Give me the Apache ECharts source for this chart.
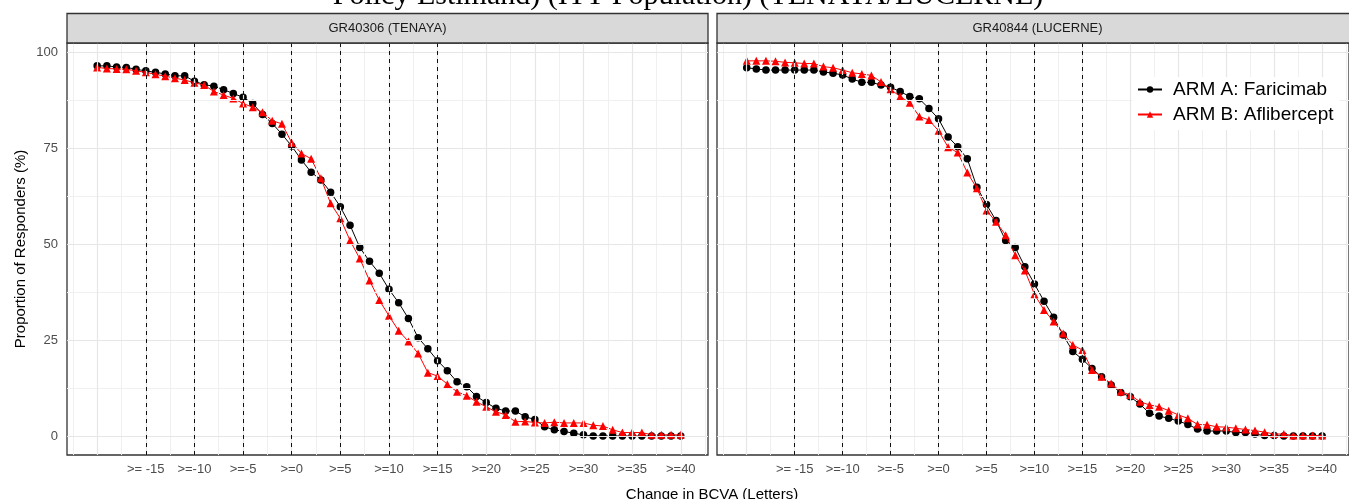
<!DOCTYPE html>
<html><head><meta charset="utf-8">
<script src="https://cdn.jsdelivr.net/npm/echarts@6/dist/echarts.min.js"></script>
<style>html,body{margin:0;padding:0;background:#fff}#c{width:1349px;height:499px}</style>
</head><body><div id="c"></div>
<script>
// Change in BCVA (letters), one point per letter
const changes = [-20,-19,-18,-17,-16,-15,-14,-13,-12,-11,-10,-9,-8,-7,-6,-5,-4,-3,-2,-1,0,1,2,3,4,5,6,7,8,9,10,11,12,13,14,15,16,17,18,19,20,21,22,23,24,25,26,27,28,29,30,31,32,33,34,35,36,37,38,39,40];

const tenayaA = [96.4,96.4,96.1,96.0,95.5,95.1,94.7,94.3,93.8,93.8,
  92.4,91.5,91.1,90.2,89.2,88.2,86.6,83.7,81.4,78.6,
  75.5,71.9,68.7,66.7,63.5,59.7,54.9,49.1,45.5,42.4,
  38.2,34.7,30.6,25.6,22.7,19.6,17.0,14.1,12.8,10.3,
  8.7,7.2,6.5,6.5,5.0,4.3,2.4,1.6,1.2,0.7,
  0.3,0,0,0,0,0,0,0,0,0,0];
const tenayaB = [96.0,95.7,95.6,95.5,95.1,94.7,94.2,93.7,93.2,92.7,
  92.0,91.4,89.7,88.8,87.9,86.6,85.6,84.3,82.1,81.3,
  76.4,73.6,72.2,67.1,60.6,56.7,50.9,46.2,40.5,35.4,
  31.3,27.4,24.6,21.5,16.5,15.6,13.5,11.5,10.5,8.9,
  7.6,6.3,5.5,3.7,3.8,3.5,3.4,3.6,3.4,3.4,
  3.4,2.8,2.6,1.6,0.9,0.9,0.9,0.3,0.3,0.3,0.3];
const lucerneA = [95.9,95.6,95.3,95.3,95.3,95.3,95.3,95.3,94.8,94.5,
  94.0,93.0,92.1,92.1,91.4,90.8,89.7,88.4,87.8,85.3,
  82.6,77.9,75.3,72.2,64.8,60.3,56.1,50.9,49.1,44.1,
  39.6,35.1,30.9,26.3,22.0,20.0,17.6,15.4,13.3,11.3,
  10.2,8.3,5.9,5.2,4.6,3.9,3.0,1.8,1.3,1.3,
  1.3,0.9,0.9,0.5,0.1,0.1,0,0,0,0,0];
const lucerneB = [97.7,97.7,97.7,97.6,97.3,97.2,97.0,97.0,96.2,95.9,
  95.3,94.6,94.3,93.9,92.2,90.3,88.4,86.8,83.2,82.3,
  79.5,75.2,73.8,68.6,64.5,58.7,55.8,52.3,47.1,43.1,
  36.9,32.8,29.8,26.7,23.7,22.4,17.2,15.4,13.7,11.5,
  10.7,8.9,8.1,7.6,6.6,5.5,4.6,3.0,2.9,2.4,
  2.3,2.0,1.7,1.4,1.0,0.5,0.5,0.1,0.1,0.1,0.1];

const panelTitles = ['GR40306 (TENAYA)', 'GR40844 (LUCERNE)'];
const seriesNames = ['ARM A: Faricimab', 'ARM B: Aflibercept'];
const xTickValues = [-15,-10,-5,0,5,10,15,20,25,30,35,40];
const xTickLabels = ['>= -15','>=-10','>=-5','>=0','>=5','>=10','>=15','>=20','>=25','>=30','>=35','>=40'];
const yTickValues = [0,25,50,75,100];
const yTickLabels = ['0','25','50','75','100'];
const refLines = [-15,-10,-5,0,5,10,15];
const gridMajorX = [-20,-15,-10,-5,0,5,10,15,20,25,30,35,40];
const gridMinorX = [-22.5,-17.5,-12.5,-7.5,-2.5,2.5,7.5,12.5,17.5,22.5,27.5,32.5,37.5,42.5];
const gridMajorY = [0,25,50,75,100];
const gridMinorY = [12.5,37.5,62.5,87.5];
const titleText = 'Policy Estimand) (ITT Population) (TENAYA/LUCERNE)';
const xTitle = 'Change in BCVA (Letters)';
const yTitle = 'Proportion of Responders (%)';

const panelData = [[tenayaA, tenayaB], [lucerneA, lucerneB]];
const FONT = '"Liberation Sans", Arial, sans-serif';
const panels = [{left: 67, width: 641}, {left: 717, width: 641}];
const TOP = 43, HEIGHT = 412, STRIP_TOP = 13.5;

const grids = [], xAxes = [], yAxes = [], series = [], graphics = [];
panels.forEach((p, i) => {
  grids.push({left: p.left, top: TOP, width: p.width, height: HEIGHT, show: true,
    borderColor: '#333', borderWidth: 1.3, backgroundColor: '#fff', containLabel: false});
  xAxes.push({gridIndex: i, type: 'value', min: -23.1, max: 42.8,
    axisLine: {show: false}, splitLine: {show: false},
    axisTick: {show: true, customValues: xTickValues, length: 4, lineStyle: {color: '#333', width: 1}},
    axisLabel: {customValues: xTickValues, formatter: v => xTickLabels[xTickValues.indexOf(v)],
      fontSize: 13, color: '#4d4d4d', margin: 8, fontFamily: FONT}});
  yAxes.push({gridIndex: i, type: 'value', min: -4.95, max: 102.35,
    name: i === 0 ? yTitle : '', nameLocation: 'middle', nameRotate: 90, nameGap: 39,
    nameTextStyle: {fontSize: 15, color: '#000', fontFamily: FONT},
    axisLine: {show: false}, splitLine: {show: false},
    axisTick: {show: i === 0, customValues: yTickValues, length: 4, lineStyle: {color: '#333'}},
    axisLabel: {show: i === 0, customValues: yTickValues,
      formatter: v => yTickLabels[yTickValues.indexOf(v)],
      fontSize: 13, color: '#4d4d4d', margin: 9, fontFamily: FONT}});
  // background grid lines
  series.push({type: 'line', data: [], xAxisIndex: i, yAxisIndex: i, silent: true, z: 1,
    markLine: {silent: true, symbol: ['none', 'none'], label: {show: false}, animation: false,
      data: [].concat(
        gridMinorX.map(v => ({xAxis: v, lineStyle: {color: '#f0f0f0', width: 1, type: 'solid'}})),
        gridMinorY.map(v => ({yAxis: v, lineStyle: {color: '#f0f0f0', width: 1, type: 'solid'}})),
        gridMajorX.map(v => ({xAxis: v, lineStyle: {color: '#e6e6e6', width: 1.2, type: 'solid'}})),
        gridMajorY.map(v => ({yAxis: v, lineStyle: {color: '#e6e6e6', width: 1.2, type: 'solid'}}))
      )}});
  // dashed reference lines
  series.push({type: 'line', data: [], xAxisIndex: i, yAxisIndex: i, silent: true, z: 2,
    markLine: {silent: true, symbol: ['none', 'none'], label: {show: false}, animation: false,
      lineStyle: {color: '#111', width: 1, type: [4, 4]},
      data: refLines.map(v => ({xAxis: v}))}});
  const [a, b] = panelData[i];
  series.push({type: 'line', name: seriesNames[0], xAxisIndex: i, yAxisIndex: i, z: 3,
    data: changes.map((c, k) => [c, a[k]]), symbol: 'circle', symbolSize: 7.5,
    lineStyle: {color: '#000', width: 1}, itemStyle: {color: '#000'}, animation: false});
  series.push({type: 'line', name: seriesNames[1], xAxisIndex: i, yAxisIndex: i, z: 4,
    data: changes.map((c, k) => [c, b[k]]), symbol: 'triangle', symbolSize: 8,
    lineStyle: {color: '#ff0000', width: 1}, itemStyle: {color: '#ff0000'}, animation: false});
  graphics.push({type: 'rect', shape: {x: p.left, y: STRIP_TOP, width: p.width, height: TOP - STRIP_TOP},
    style: {fill: '#d9d9d9', stroke: '#333', lineWidth: 1.3}, z: 10});
  graphics.push({type: 'text', x: p.left + p.width / 2, y: (STRIP_TOP + TOP) / 2 + 0.5, z: 11,
    style: {text: panelTitles[i], font: '13px ' + FONT, fill: '#1a1a1a', align: 'center', verticalAlign: 'middle'}});
});
graphics.push({type: 'text', x: 688, y: -4, z: 11,
  style: {text: titleText, font: '30px "Liberation Serif", "Times New Roman", serif', fill: '#000', align: 'center', verticalAlign: 'middle'}});
graphics.push({type: 'text', x: 712, y: 495, z: 11,
  style: {text: xTitle, font: '15px ' + FONT, fill: '#000', align: 'center', verticalAlign: 'middle'}});

const chart = echarts.init(document.getElementById('c'), null, {renderer: 'canvas'});
chart.setOption({
  animation: false,
  backgroundColor: '#fff',
  grid: grids, xAxis: xAxes, yAxis: yAxes, series: series, graphic: graphics,
  legend: {data: seriesNames, orient: 'vertical', left: 1132, top: 77, z: 30,
    itemWidth: 24, itemHeight: 8, itemGap: 6, backgroundColor: '#fff', padding: [3, 6, 6, 5],
    textStyle: {fontSize: 19, color: '#000', fontFamily: FONT, padding: [0, 0, 0, 6]}}
});
</script></body></html>
